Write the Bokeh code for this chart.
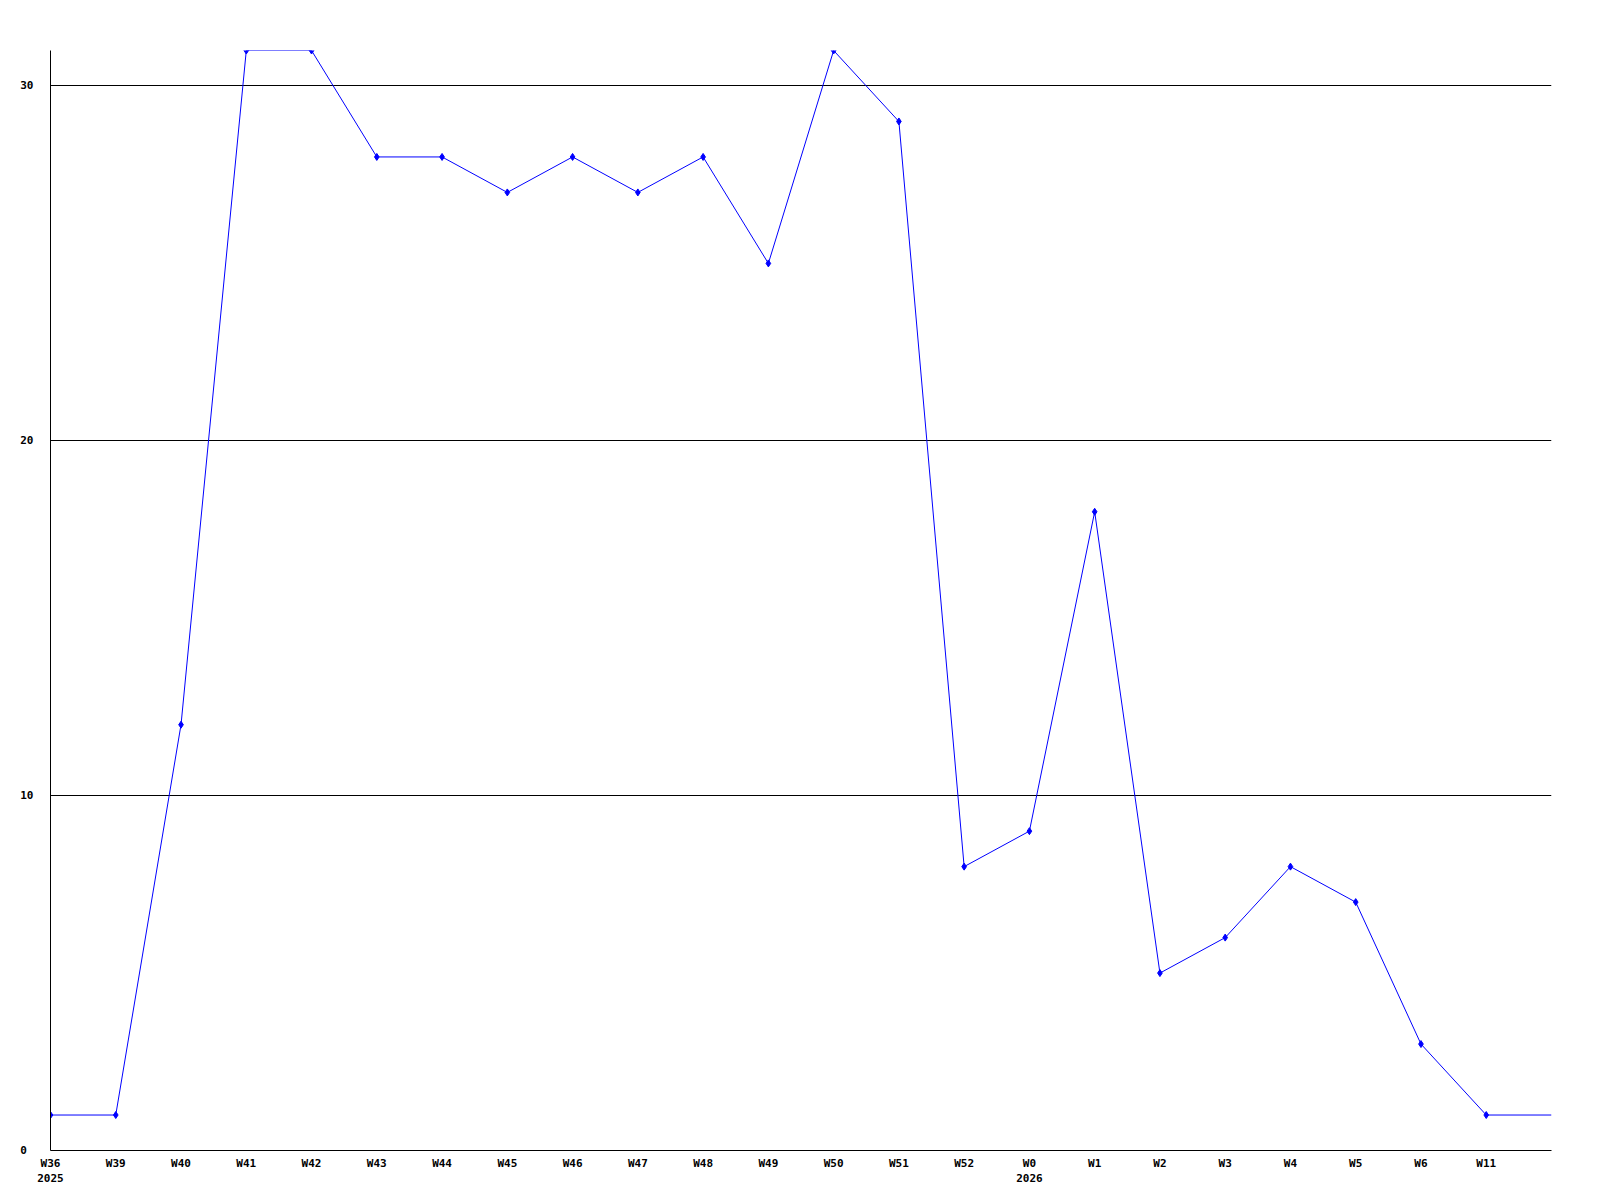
from bokeh.plotting import figure
from bokeh.models import FixedTicker, Range1d
from bokeh.embed import file_html
from bokeh.resources import INLINE

weeks = ["W36", "W39", "W40", "W41", "W42", "W43", "W44", "W45", "W46", "W47",
         "W48", "W49", "W50", "W51", "W52", "W0", "W1", "W2", "W3", "W4", "W5",
         "W6", "W11"]
years = {"W36": "2025", "W0": "2026"}
counts = [1, 1, 12, 31, 31, 28, 28, 27, 28, 27, 28, 25, 31, 29, 8, 9, 18, 5, 6,
          8, 7, 3, 1]
y_ticks = [0, 10, 20, 30]

xs = list(range(len(weeks)))

p = figure(frame_width=1501, frame_height=1100, output_backend="svg",
           toolbar_location=None, x_range=Range1d(0, len(weeks)),
           y_range=Range1d(0, max(counts)),
           min_border_left=50, min_border_top=50, min_border_right=30,
           min_border_bottom=40)
p.outline_line_color = None
p.background_fill_color = "white"
p.border_fill_color = "white"

# line (continues to right edge at last value)
p.line(xs + [len(weeks)], counts + [counts[-1]], line_color="#0000ff", line_width=1)
p.scatter(xs, counts, marker="diamond", size=7, fill_color="#0000ff",
          line_color="#0000ff")

font = "DejaVu Sans Mono"
p.xaxis.ticker = FixedTicker(ticks=xs)
p.xaxis.major_label_overrides = {
    i: (w + "\n" + years[w]) if w in years else w for i, w in enumerate(weeks)
}
p.yaxis.ticker = FixedTicker(ticks=y_ticks)
p.yaxis.major_label_overrides = {t: str(t) + "\u00a0" * (2 - len(str(t))) for t in y_ticks}

for ax in (p.xaxis[0], p.yaxis[0]):
    ax.major_tick_line_color = None
    ax.minor_tick_line_color = None
    ax.axis_line_color = "black"
    ax.axis_line_width = 1
    ax.major_label_text_font = font
    ax.major_label_text_font_style = "bold"
    ax.major_label_text_font_size = "11px"
    ax.major_label_text_color = "black"
    ax.major_tick_out = 0
    ax.major_tick_in = 0

p.xaxis.major_label_standoff = 6
p.yaxis.major_label_standoff = 17

p.xgrid.grid_line_color = None
p.ygrid.grid_line_color = "black"
p.ygrid.grid_line_width = 1

open("out.html", "w").write(file_html(p, INLINE))
